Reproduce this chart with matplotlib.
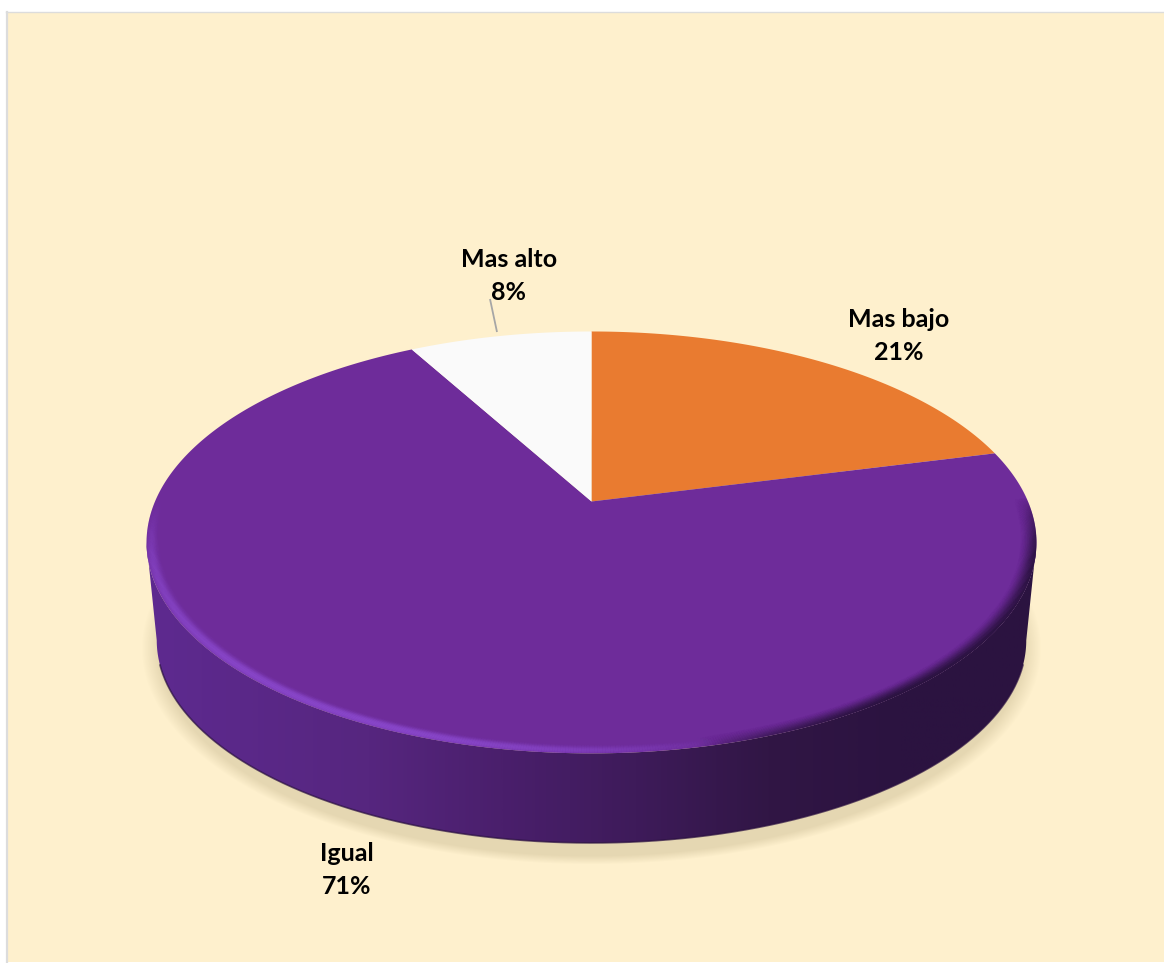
import matplotlib
matplotlib.use('Agg')
import matplotlib.pyplot as plt
import numpy as np
from matplotlib.collections import LineCollection
from matplotlib.colors import LinearSegmentedColormap, to_rgb
from matplotlib.patches import Polygon, Rectangle

categories = ['Mas bajo', 'Igual', 'Mas alto']
shares = [21, 71, 8]
slice_colors = ['#E97B30', '#6E2C9A', '#FAFAFA']

WIDTH, HEIGHT = 1164, 963

# disc geometry in pixels, the perspective factor pushes the far rim back
CENTER_X = 591.5
TOP_APEX_Y = 501.5
BOTTOM_APEX_Y = 601
TOP_A, TOP_B = 436.5, 203
BOTTOM_A, BOTTOM_B = 426.5, 195
PERSPECTIVE = 0.194

label_xy = [(899, 336), (347, 870), (509, 276)]


def project(theta, apex_y, a, b, scale=1.0):
    # theta is clockwise from twelve o'clock
    u = scale * np.sin(theta)
    v = scale * np.cos(theta)
    w = 1 + PERSPECTIVE * v
    return CENTER_X + a * u / w, apex_y - b * v / w


def rim_points(start, end, apex_y, a, b, scale=1.0, n=400):
    theta = np.linspace(start, end, n)
    x, y = project(theta, apex_y, a, b, scale)
    return np.column_stack([x, y])


fig = plt.figure(figsize=(WIDTH / 100, HEIGHT / 100), dpi=100, facecolor='white')
ax = fig.add_axes([0, 0, 1, 1])
ax.axis('off')

ax.add_patch(Rectangle((6, 12), WIDTH, HEIGHT - 13, facecolor='#FEF0CD', edgecolor='none', zorder=0))
ax.plot([6.5, 6.5], [12, 962], color='#DCDCDC', lw=1.6, zorder=1)
ax.plot([6, WIDTH], [12.5, 12.5], color='#DCDCDC', lw=1.0, zorder=1)

# soft shadow under the disc
grid_x, grid_y = np.meshgrid(np.arange(WIDTH), np.arange(HEIGHT))
radius = np.hypot((grid_x - 591) / 450, (grid_y - 648) / 216)
shadow = np.zeros((HEIGHT, WIDTH, 4))
shadow[..., :3] = to_rgb('#8A7A4C')
shadow[..., 3] = 0.21 * np.clip((1 - radius) / 0.04, 0, 1)
ax.imshow(shadow, extent=(0, WIDTH, HEIGHT, 0), aspect='auto', zorder=2, interpolation='bilinear')

# side wall, a horizontal gradient clipped to the silhouette
wall_cmap = LinearSegmentedColormap.from_list('wall', [
    (0.00, '#5E2A90'), (0.25, '#56267F'), (0.40, '#4A1F6C'),
    (0.55, '#3E1B5A'), (0.70, '#311645'), (0.85, '#2B1340'), (1.00, '#2B1340'),
])
# the outline leaves the rim where the projected circle is widest
widest = np.arccos(-PERSPECTIVE)
wall_edge = np.vstack([
    rim_points(widest, 2 * np.pi - widest, TOP_APEX_Y, TOP_A, TOP_B),
    rim_points(2 * np.pi - widest, widest, BOTTOM_APEX_Y, BOTTOM_A, BOTTOM_B),
])
wall = Polygon(wall_edge, closed=True, facecolor='none', edgecolor='none', zorder=3)
ax.add_patch(wall)
wall_image = ax.imshow(np.linspace(0, 1, 512)[None, :], extent=(146, 1036, 860, 540), cmap=wall_cmap,
                       aspect='auto', zorder=3)
wall_image.set_clip_path(wall)

bottom_edge = rim_points(np.pi * 0.6, np.pi * 1.4, BOTTOM_APEX_Y, BOTTOM_A, BOTTOM_B)
ax.plot(bottom_edge[:, 0], bottom_edge[:, 1], color='#2A1040', lw=1.2, alpha=0.7, zorder=3)

# top face slices, laid out clockwise from the top
edges = np.cumsum([0] + shares) / sum(shares) * 2 * np.pi
purple_face = None
for i, color in enumerate(slice_colors):
    rim = rim_points(edges[i], edges[i + 1], TOP_APEX_Y, TOP_A, TOP_B)
    points = np.vstack([[CENTER_X, TOP_APEX_Y], rim])
    face = Polygon(points, closed=True, facecolor=color, edgecolor='none', zorder=4)
    ax.add_patch(face)
    if categories[i] == 'Igual':
        purple_face = face

# rounded rim: light towards the lower left, dark towards the lower right
theta = np.linspace(edges[1], edges[2], 900)
u, v = np.sin(theta), np.cos(theta)
lower = np.clip((0.02 - v) / 0.3, 0, 1)
light = np.clip((0.25 - u) / 0.6, 0, 1) * lower
dark = np.clip((u - 0.2) / 0.4, 0, 1) * lower

bevel_scales = np.linspace(1.0, 0.964, 28)
for scale in bevel_scales:
    depth = (1 - scale) / 0.036
    light_profile = np.exp(-((depth - 0.28) / 0.3) ** 2)
    dark_profile = np.clip(1 - depth, 0, 1) ** 1.8
    x, y = project(theta, TOP_APEX_Y, TOP_A, TOP_B, scale)
    points = np.column_stack([x, y]).reshape(-1, 1, 2)
    segments = np.concatenate([points[:-1], points[1:]], axis=1)
    colors = np.zeros((len(segments), 4))
    # only the long lower arc gets the full highlight, the far left stays soft
    bottom_boost = 0.4 + 0.6 * np.clip(-v[:-1] / 0.7, 0, 1)
    light_alpha = (light * light_profile * 0.72)[:-1] * bottom_boost
    dark_alpha = (dark * dark_profile)[:-1]
    share_dark = dark_alpha / np.maximum(dark_alpha + light_alpha, 1e-6)
    colors[:, :3] = (np.outer(share_dark, to_rgb('#2B1340'))
                     + np.outer(1 - share_dark, to_rgb('#8A48CC')))
    colors[:, 3] = np.maximum(light_alpha, dark_alpha)
    lines = LineCollection(segments, colors=colors, linewidths=0.9, zorder=5, capstyle='butt')
    ax.add_collection(lines)
    lines.set_clip_path(purple_face)

# leader line of the smallest slice
ax.plot([490, 497], [299, 332], color='#A6A6A6', lw=1.3, zorder=6, solid_capstyle='butt')

for name, share, (x, y) in zip(categories, shares, label_xy):
    ax.text(x, y, f'{name}\n{share}%', ha='center', va='center', multialignment='center',
            family=['Lato', 'DejaVu Sans'], fontweight='bold', fontsize=18, color='black',
            linespacing=1.5, zorder=7)

ax.set_xlim(0, WIDTH)
ax.set_ylim(HEIGHT, 0)

fig.savefig('out.png', dpi=100, facecolor='white')
plt.close('all')
